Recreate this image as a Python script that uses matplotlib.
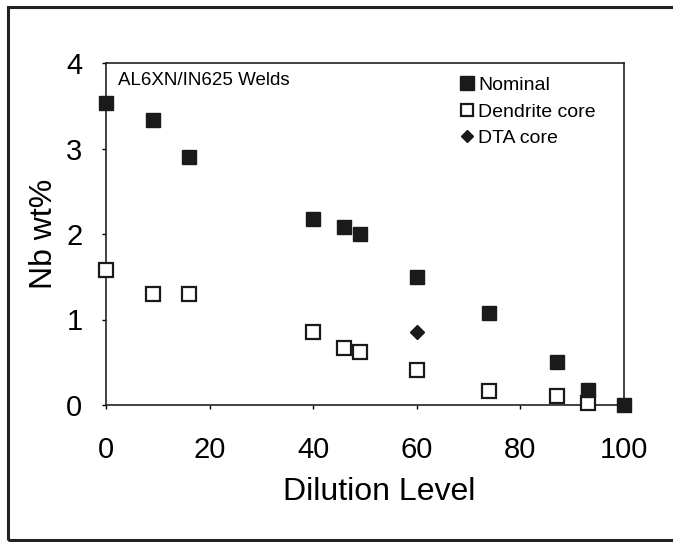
import matplotlib
matplotlib.use("Agg")
import matplotlib.pyplot as plt
from matplotlib.patches import Rectangle

plt.rcParams['font.family'] = ['Liberation Sans', 'DejaVu Sans']

# data
nominal_x = [0, 9, 16, 40, 46, 49, 60, 74, 87, 93, 100]
nominal_y = [3.53, 3.33, 2.9, 2.17, 2.08, 2.0, 1.5, 1.08, 0.5, 0.18, 0.0]

dendrite_x = [0, 9, 16, 40, 46, 49, 60, 74, 87, 93]
dendrite_y = [1.58, 1.3, 1.3, 0.85, 0.67, 0.62, 0.41, 0.16, 0.1, 0.02]

dta_x = [60]
dta_y = [0.85]

fig = plt.figure(figsize=(6.73, 5.42), dpi=100)
ax = fig.add_axes([106 / 673, 1 - 405 / 542, 518 / 673, 342 / 542])

# outer frame around the whole figure
fig.patches.append(Rectangle((8 / 673, 2 / 542), 1.0, 533 / 542, transform=fig.transFigure,
                             fill=False, edgecolor='#222222', linewidth=2.2, clip_on=False))

ax.plot(nominal_x, nominal_y, 's', color='#1a1a1a', markersize=10.5, label='Nominal', clip_on=False, zorder=4)
ax.plot(dendrite_x, dendrite_y, 's', markerfacecolor='white', markeredgecolor='#1a1a1a',
        markeredgewidth=1.6, markersize=9.5, label='Dendrite core', clip_on=False, zorder=3)
ax.plot(dta_x, dta_y, 'D', color='#1a1a1a', markersize=7, label='DTA core', clip_on=False, zorder=4)

ax.set_xlim(0, 100)
ax.set_ylim(0, 4)
ax.set_xticks([0, 20, 40, 60, 80, 100])
ax.set_yticks([0, 1, 2, 3, 4])
ax.tick_params(labelsize=21, length=3, width=1)
ax.tick_params(axis='x', pad=19)
ax.tick_params(axis='y', pad=14)
for s in ax.spines.values():
    s.set_linewidth(1.2)
    s.set_color('#222222')

ax.set_xlabel('Dilution Level', fontsize=23)
ax.xaxis.set_label_coords(0.527, -0.21)
ax.set_ylabel('Nb wt%', fontsize=23)
ax.yaxis.set_label_coords(-0.09, 0.5)

ax.text(0.024, 0.975, 'AL6XN/IN625 Welds', transform=ax.transAxes, fontsize=13.5,
        va='top', ha='left')

ax.legend(loc='upper left', bbox_to_anchor=(0.683, 0.96), frameon=False, fontsize=14,
          handlelength=0.7, handletextpad=0.25, labelspacing=0.45, borderaxespad=0,
          borderpad=0, markerscale=0.9)

fig.savefig('out.png', dpi=100)
